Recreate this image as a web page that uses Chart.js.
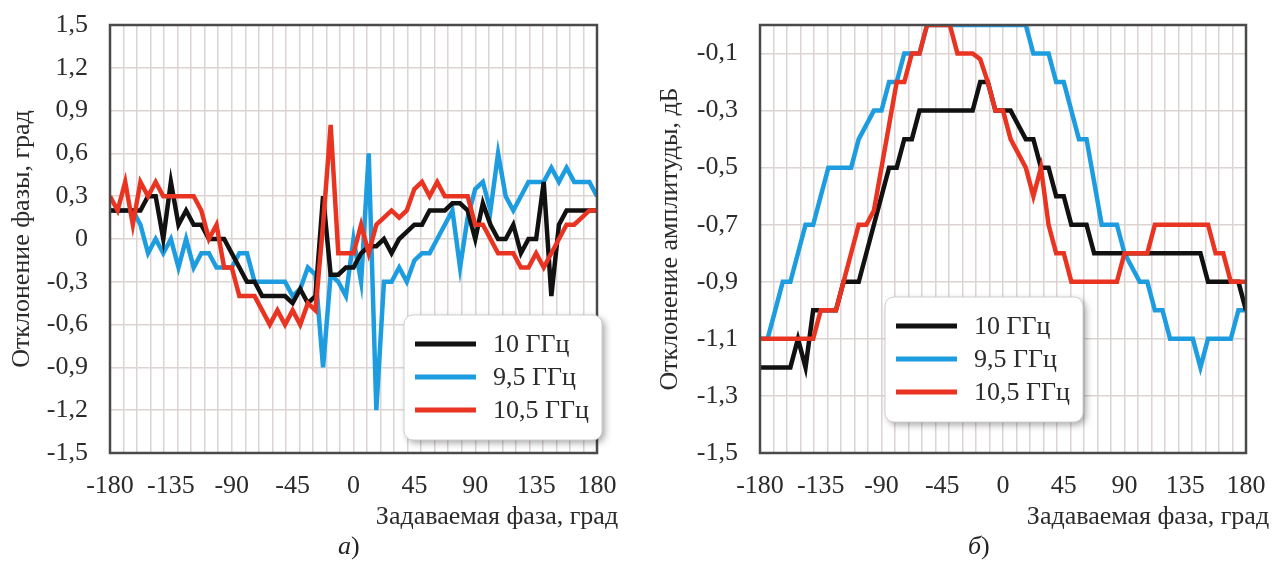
<!DOCTYPE html>
<html lang="ru">
<head>
<meta charset="utf-8">
<title>Отклонение фазы и амплитуды</title>
<script src="https://cdn.jsdelivr.net/npm/chart.js@4.4.1/dist/chart.umd.min.js"></script>
<style>
    html, body { margin: 0; padding: 0; background: #fff; }
    body { width: 1276px; height: 565px; position: relative; overflow: hidden; font-family: "Liberation Serif", "Times New Roman", serif; }
    canvas { position: absolute; top: 0; }
    #phaseChart { left: 0; }
    #ampChart { left: 640px; }
    .caption { position: absolute; top: 531px; font-size: 26px; color: #222; line-height: 30px; }
</style>
</head>
<body>
<canvas id="phaseChart" width="640" height="565"></canvas>
<canvas id="ampChart" width="636" height="565"></canvas>
<div class="caption" style="left:338px"><i>а</i>)</div>
<div class="caption" style="left:968px"><i>б</i>)</div>
<script>
// Phase states of the 6-bit shifter, deg
const phaseDeg = [-180, -174.375, -168.75, -163.125, -157.5, -151.875, -146.25, -140.625, -135, -129.375,
    -123.75, -118.125, -112.5, -106.875, -101.25, -95.625, -90, -84.375, -78.75, -73.125,
    -67.5, -61.875, -56.25, -50.625, -45, -39.375, -33.75, -28.125, -22.5, -16.875,
    -11.25, -5.625, 0, 5.625, 11.25, 16.875, 22.5, 28.125, 33.75, 39.375,
    45, 50.625, 56.25, 61.875, 67.5, 73.125, 78.75, 84.375, 90, 95.625,
    101.25, 106.875, 112.5, 118.125, 123.75, 129.375, 135, 140.625, 146.25, 151.875,
    157.5, 163.125, 168.75, 174.375, 180];

const seriesNames = ['10 ГГц', '9,5 ГГц', '10,5 ГГц'];

// а) phase deviation, deg
const phase10 = [0.2, 0.2, 0.2, 0.2, 0.2, 0.3, 0.3, 0.0, 0.4, 0.1,
    0.2, 0.1, 0.1, 0.0, 0.0, 0.0, -0.1, -0.2, -0.3, -0.3,
    -0.4, -0.4, -0.4, -0.4, -0.45, -0.35, -0.45, -0.4, 0.3, -0.25,
    -0.25, -0.2, -0.2, -0.1, -0.05, -0.05, 0.0, -0.1, 0.0, 0.05,
    0.1, 0.1, 0.2, 0.2, 0.2, 0.25, 0.25, 0.2, 0.0, 0.25,
    0.1, 0.0, 0.0, 0.1, -0.1, 0.0, 0.0, 0.4, -0.4, 0.1,
    0.2, 0.2, 0.2, 0.2, 0.2];
const phase95 = [0.2, 0.2, 0.2, 0.2, 0.1, -0.1, 0.0, -0.1, 0.0, -0.2,
    0.0, -0.2, -0.1, -0.1, -0.2, -0.2, -0.2, -0.1, -0.1, -0.3,
    -0.3, -0.3, -0.3, -0.3, -0.4, -0.35, -0.2, -0.25, -0.9, -0.25,
    -0.3, -0.4, 0.0, -0.3, 0.6, -1.2, -0.3, -0.3, -0.2, -0.3,
    -0.15, -0.1, -0.1, 0.0, 0.1, 0.2, -0.2, 0.15, 0.35, 0.4,
    0.2, 0.6, 0.3, 0.2, 0.3, 0.4, 0.4, 0.4, 0.5, 0.4,
    0.5, 0.4, 0.4, 0.4, 0.3];
const phase105 = [0.3, 0.2, 0.4, 0.1, 0.4, 0.3, 0.4, 0.3, 0.3, 0.3,
    0.3, 0.3, 0.2, 0.0, 0.1, -0.2, -0.2, -0.4, -0.4, -0.4,
    -0.5, -0.6, -0.5, -0.6, -0.5, -0.6, -0.45, -0.5, 0.1, 0.8,
    -0.1, -0.1, -0.1, 0.1, -0.1, 0.1, 0.15, 0.2, 0.15, 0.2,
    0.35, 0.4, 0.3, 0.4, 0.3, 0.3, 0.3, 0.3, 0.1, 0.1,
    0.0, -0.1, -0.1, -0.1, -0.2, -0.2, -0.1, -0.2, -0.1, 0.0,
    0.1, 0.1, 0.15, 0.2, 0.2];

// б) amplitude deviation, dB
const amp10 = [-1.2, -1.2, -1.2, -1.2, -1.2, -1.1, -1.2, -1.0, -1.0, -1.0,
    -1.0, -0.9, -0.9, -0.9, -0.8, -0.7, -0.6, -0.5, -0.5, -0.4,
    -0.4, -0.3, -0.3, -0.3, -0.3, -0.3, -0.3, -0.3, -0.3, -0.2,
    -0.2, -0.3, -0.3, -0.3, -0.35, -0.4, -0.4, -0.5, -0.5, -0.6,
    -0.6, -0.7, -0.7, -0.7, -0.8, -0.8, -0.8, -0.8, -0.8, -0.8,
    -0.8, -0.8, -0.8, -0.8, -0.8, -0.8, -0.8, -0.8, -0.8, -0.9,
    -0.9, -0.9, -0.9, -0.9, -1.0];
const amp95 = [-1.1, -1.1, -1.0, -0.9, -0.9, -0.8, -0.7, -0.7, -0.6, -0.5,
    -0.5, -0.5, -0.5, -0.4, -0.35, -0.3, -0.3, -0.2, -0.2, -0.1,
    -0.1, -0.1, 0, 0, 0, 0, 0, 0, 0, 0,
    0, 0, 0, 0, 0, 0, -0.1, -0.1, -0.1, -0.2,
    -0.2, -0.3, -0.4, -0.4, -0.55, -0.7, -0.7, -0.7, -0.8, -0.85,
    -0.9, -0.9, -1.0, -1.0, -1.1, -1.1, -1.1, -1.1, -1.2, -1.1,
    -1.1, -1.1, -1.1, -1.0, -1.0];
const amp105 = [-1.1, -1.1, -1.1, -1.1, -1.1, -1.1, -1.1, -1.1, -1.0, -1.0,
    -1.0, -0.9, -0.8, -0.7, -0.7, -0.65, -0.5, -0.35, -0.2, -0.2,
    -0.1, -0.1, 0, 0, 0, 0, -0.1, -0.1, -0.1, -0.12,
    -0.2, -0.3, -0.3, -0.4, -0.45, -0.5, -0.6, -0.5, -0.7, -0.8,
    -0.8, -0.9, -0.9, -0.9, -0.9, -0.9, -0.9, -0.9, -0.8, -0.8,
    -0.8, -0.8, -0.7, -0.7, -0.7, -0.7, -0.7, -0.7, -0.7, -0.7,
    -0.8, -0.8, -0.9, -0.9, -0.9];

// Tick labels
const degTicks = [-180, -135, -90, -45, 0, 45, 90, 135, 180];
const phaseTicks = [1.5, 1.2, 0.9, 0.6, 0.3, 0, -0.3, -0.6, -0.9, -1.2, -1.5];
const ampTicks = [-0.1, -0.3, -0.5, -0.7, -0.9, -1.1, -1.3, -1.5];

const FONT = '"Liberation Serif", "Times New Roman", serif';
const TEXT = '#2b2b2b';
const GRID = '#dcd3d3';
const colors = ['#111111', '#1d9de0', '#ea3422'];

Chart.defaults.font.family = FONT;
Chart.defaults.color = TEXT;

function fmt(v) {
    if (Math.abs(v) < 1e-9) return '0';
    return v.toFixed(1).replace('.', ',');
}

function makeDatasets(series) {
    // red on top, then black, blue at the bottom
    const order = [1, 2, 0];
    return series.map((vals, i) => ({
        label: seriesNames[i],
        data: phaseDeg.map((x, k) => ({ x: x, y: vals[k] })),
        borderColor: colors[i],
        backgroundColor: colors[i],
        borderWidth: 4.5,
        pointRadius: 0,
        tension: 0,
        order: order[i]
    }));
}

// frame, x-axis title and the legend box
const decorPlugin = {
    id: 'decor',
    afterDraw(chart, args, opts) {
        const { ctx, chartArea: a } = chart;
        ctx.save();
        ctx.strokeStyle = '#4a4a4a';
        ctx.lineWidth = 2.5;
        ctx.strokeRect(a.left, a.top, a.right - a.left, a.bottom - a.top);

        ctx.font = '26px ' + FONT;
        ctx.fillStyle = TEXT;
        ctx.textAlign = 'center';
        ctx.textBaseline = 'middle';
        ctx.fillText(opts.xTitle, a.right + opts.xTitleShift, opts.xTitleY);

        const lx = opts.legendX, ly = opts.legendY, lw = 198, lh = 125;
        ctx.shadowColor = 'rgba(0,0,0,0.35)';
        ctx.shadowBlur = 7;
        ctx.shadowOffsetX = 3;
        ctx.shadowOffsetY = 3;
        ctx.beginPath();
        ctx.roundRect(lx, ly, lw, lh, 9);
        ctx.fillStyle = '#fff';
        ctx.fill();
        ctx.shadowColor = 'transparent';
        ctx.strokeStyle = '#cfcfcf';
        ctx.lineWidth = 1;
        ctx.stroke();

        ctx.textAlign = 'left';
        chart.data.datasets.forEach((ds, i) => {
            const y = ly + 29 + i * 33;
            ctx.strokeStyle = ds.borderColor;
            ctx.lineWidth = 5;
            ctx.beginPath();
            ctx.moveTo(lx + 11, y);
            ctx.lineTo(lx + 72, y);
            ctx.stroke();
            ctx.fillStyle = TEXT;
            ctx.fillText(ds.label, lx + 89, y + 1);
        });
        ctx.restore();
    }
};

function degAxis() {
    return {
        type: 'linear',
        min: -180,
        max: 180,
        afterBuildTicks: axis => {
            const vals = new Set(degTicks);
            for (let v = -180; v <= 180; v += 10) vals.add(v);
            axis.ticks = [...vals].sort((a, b) => a - b).map(v => ({ value: v }));
        },
        ticks: {
            autoSkip: false,
            maxRotation: 0,
            padding: 18,
            color: TEXT,
            font: { size: 26 },
            callback: v => degTicks.includes(v) ? String(v) : ''
        },
        grid: {
            drawTicks: false,
            lineWidth: 1.5,
            color: ctx => (ctx.tick && ctx.tick.value % 10 === 0) ? GRID : 'rgba(0,0,0,0)'
        },
        border: { display: false },
        afterFit: s => {
            s.height = 112;
            s.paddingLeft = 0;
            s.paddingRight = 0;
        }
    };
}

function valueAxis(min, max, ticks, title, width, titlePad) {
    return {
        type: 'linear',
        min: min,
        max: max,
        afterBuildTicks: axis => { axis.ticks = ticks.map(v => ({ value: v })); },
        ticks: {
            autoSkip: false,
            padding: 22,
            color: TEXT,
            font: { size: 26 },
            callback: v => fmt(v)
        },
        grid: { drawTicks: false, lineWidth: 1.5, color: GRID },
        border: { display: false },
        title: {
            display: true,
            text: title,
            color: TEXT,
            font: { size: 26 },
            padding: { top: titlePad, bottom: 0 }
        },
        afterFit: s => {
            s.width = width;
            s.paddingTop = 0;
            s.paddingBottom = 0;
        }
    };
}

function makeChart(id, series, yAxis, right, decor) {
    return new Chart(document.getElementById(id), {
        type: 'line',
        data: { datasets: makeDatasets(series) },
        options: {
            responsive: false,
            animation: false,
            devicePixelRatio: 1,
            layout: { padding: { top: 25, right: right, left: 0, bottom: 0 } },
            scales: { x: degAxis(), y: yAxis },
            plugins: {
                legend: { display: false },
                tooltip: { enabled: false },
                decor: decor
            }
        },
        plugins: [decorPlugin]
    });
}

makeChart('phaseChart', [phase10, phase95, phase105],
    valueAxis(-1.5, 1.5, phaseTicks, 'Отклонение фазы, град', 110, 7),
    640 - 597,
    { xTitle: 'Задаваемая фаза, град', xTitleShift: -100, xTitleY: 517, legendX: 404, legendY: 315 });

makeChart('ampChart', [amp10, amp95, amp105],
    valueAxis(-1.5, 0, ampTicks, 'Отклонение амплитуды, дБ', 120, 15),
    636 - 606,
    { xTitle: 'Задаваемая фаза, град', xTitleShift: -98, xTitleY: 517, legendX: 245, legendY: 297 });
</script>
</body>
</html>
